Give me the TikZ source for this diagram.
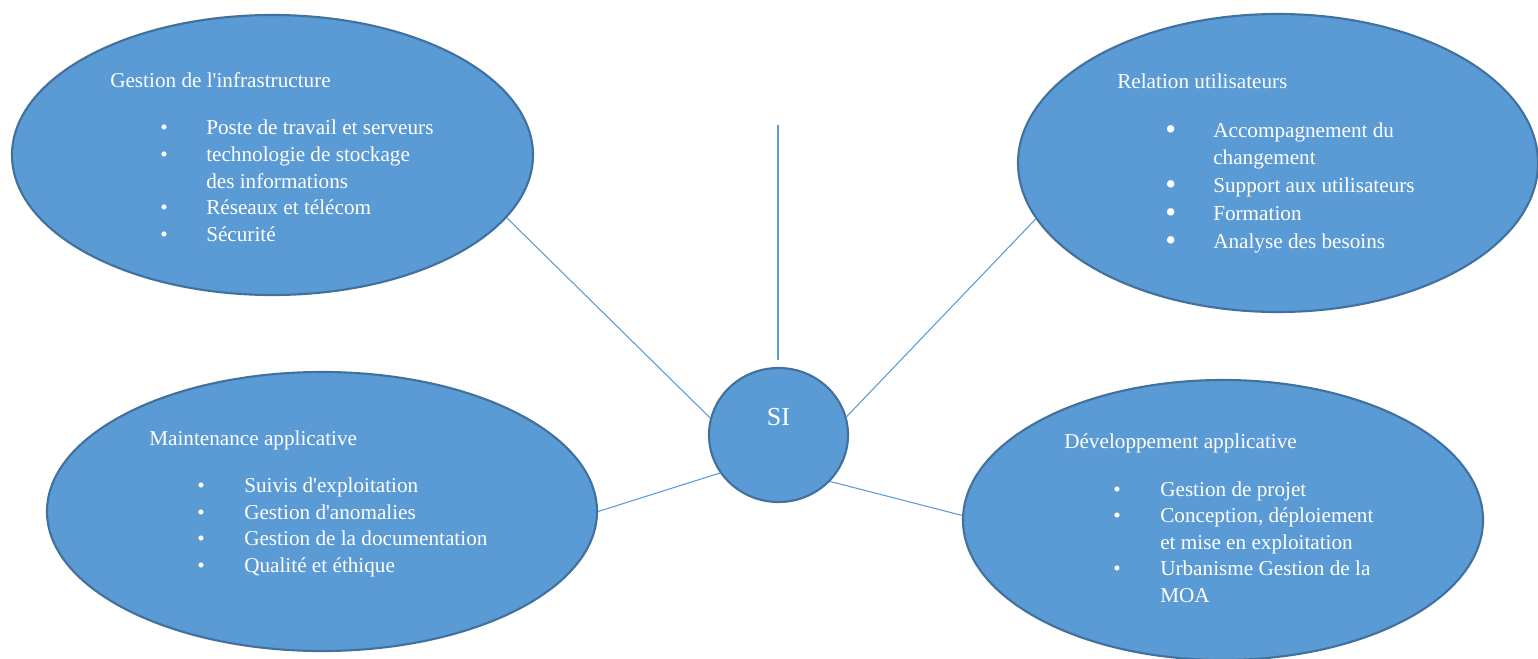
\documentclass[tikz,border=0pt]{standalone}
\usepackage{fontspec}
\setmainfont{Liberation Serif}
\usetikzlibrary{shapes.geometric}
\definecolor{blobfill}{RGB}{91,155,213}
\definecolor{blobedge}{RGB}{65,113,156}
\definecolor{linkcol}{RGB}{91,155,213}
\tikzset{
  blob/.style={ellipse, draw=blobedge, fill=blobfill, line width=1.6pt, inner sep=0pt},
  link/.style={draw=linkcol, line width=0.8pt},
  txt/.style={text=white, inner sep=0pt, anchor=base west, font=\fontsize{15.9}{20}\selectfont},
  dot/.style={text=white, inner sep=0pt, anchor=base west, font=\fontsize{15.9}{20}\selectfont},
}
\newcommand{\bigdot}{\raisebox{-0.05em}{\scalebox{1.45}{\textbullet}}}
\newcommand{\ap}{\textquotesingle}
\begin{document}
\begin{tikzpicture}[x=0.75pt, y=-0.75pt]
\useasboundingbox (0,0) rectangle (1538,659);

% the five shapes
\node[blob, minimum width=521*0.75pt, minimum height=280*0.75pt] (infra) at (272.5,155) {};
\node[blob, minimum width=520*0.75pt, minimum height=298*0.75pt] (users) at (1278,163) {};
\node[blob, minimum width=550*0.75pt, minimum height=279*0.75pt] (maint) at (322,511.5) {};
\node[blob, minimum width=520*0.75pt, minimum height=280*0.75pt] (dev) at (1223,520) {};
\node[blob, minimum width=139*0.75pt, minimum height=134*0.75pt] (si) at (778.5,435) {};
\node[text=white, inner sep=0pt, font=\fontsize{19.5}{22}\selectfont] (silabel) at (778.5,417) {SI};

% connectors
\coordinate (stemtop) at (778,125);
\coordinate (stembot) at (778,360);
\draw[link] (stemtop) -- (stembot);
\draw[link] (infra.-15.9) -- (si.166);
\draw[link] (users.193.3) -- (si.15.8);
\draw[link] (maint.0) -- (si.213.7);
\draw[link] (dev.179) -- (si.-42.7);

% Gestion de l'infrastructure
\node[txt] (h1) at (110,88) {Gestion de l\ap infrastructure};
\foreach \y/\t [count=\i] in {135/Poste de travail et serveurs, 162/technologie de stockage, 215/Réseaux et télécom, 242/Sécurité}{
  \node[dot] (b1\i) at (160,\y) {\textbullet};
  \node[txt] (t1\i) at (206,\y) {\t};
}
\node[txt] (t1x) at (206,189) {des informations};

% Relation utilisateurs
\node[txt] (h2) at (1117,89) {Relation utilisateurs};
\foreach \y/\t [count=\i] in {138/Accompagnement du, 193/Support aux utilisateurs, 221/Formation, 249/Analyse des besoins}{
  \node[dot] (b2\i) at (1165,\y) {\bigdot};
  \node[txt] (t2\i) at (1213,\y) {\t};
}
\node[txt] (t2x) at (1213,165) {changement};

% Maintenance applicative
\node[txt] (h3) at (149,445) {Maintenance applicative};
\foreach \y/\t [count=\i] in {492/Suivis d\ap exploitation, 519/Gestion d\ap anomalies, 545/Gestion de la documentation, 572/Qualité et éthique}{
  \node[dot] (b3\i) at (197,\y) {\textbullet};
  \node[txt] (t3\i) at (244,\y) {\t};
}

% Développement applicative
\node[txt] (h4) at (1064,448) {Développement applicative};
\foreach \y/\t [count=\i] in {496/Gestion de projet, 522/{Conception, déploiement}, 575/Urbanisme Gestion de la}{
  \node[dot] (b4\i) at (1113,\y) {\textbullet};
  \node[txt] (t4\i) at (1160,\y) {\t};
}
\node[txt] (t4x) at (1160,549) {et mise en exploitation};
\node[txt] (t4y) at (1160,602) {MOA};
\end{tikzpicture}
\end{document}
